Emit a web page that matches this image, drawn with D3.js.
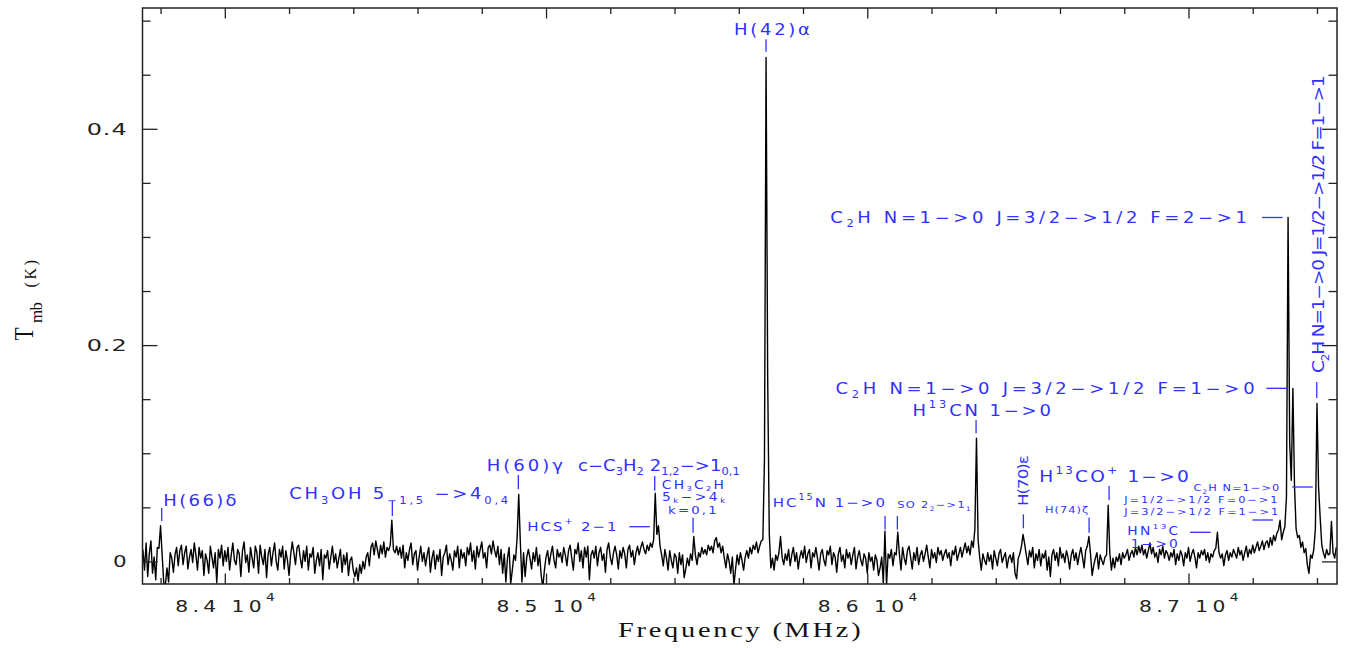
<!DOCTYPE html>
<html>
<head>
<meta charset="utf-8">
<script src="https://cdn.jsdelivr.net/npm/d3@7"></script>
<style>
  html, body { margin: 0; background: #fff; }
  svg { display: block; }
  text { white-space: pre; }
</style>
</head>
<body>
<svg id="chart" width="1353" height="648"></svg>
<script>
// ---- spectrum: first channel frequency (MHz) and channel width (MHz)
const freqStart = 83745;
const chanWidth = 5;

// ---- main-beam brightness temperature per channel (mK)
const tmbMilliK = [
  11, -8, 17, -14, 7, 19, -11, 4, -17, 13, 12, 33, 6, -20, -22, -6, -19, 8, 3, -10,
  6, 13, -4, 10, 15, -3, 8, 14, -7, 4, 11, -1, 17, 6, -8, 13, 3, 10, -13, 7,
  1, -11, 14, 4, -6, 8, -20, 11, 3, 15, -4, 10, 0, 13, -8, 6, 17, 1, -3, 11,
  7, -14, 10, 18, -1, 6, -10, 13, 3, -6, 14, 8, -11, 15, 4, -3, 11, -15, 7, 13,
  -4, 8, 17, 0, -8, 11, 4, 14, -7, 10, 1, -13, 6, 18, 8, -3, 13, 15, 3, -6,
  10, 0, 14, -8, 7, 4, 13, -11, 1, 8, -4, 11, -17, 6, 3, 10, -7, 4, 14, -1,
  7, -6, 3, 11, -10, 6, -3, 8, -13, 1, 4, -8, -14, -6, -18, -3, -11, 0, -7, 4,
  8, -4, 13, 17, 6, 19, 11, 3, 15, 7, 18, 4, 13, 10, 15, 38, 11, 8, 14, 6,
  13, 3, 15, -6, 8, 1, 11, 17, -3, 7, 10, -8, 4, 14, 0, 8, -4, 6, 13, -10,
  3, 10, -7, 6, 0, 11, -13, 4, 8, 15, -3, 7, 1, -8, 10, 4, 14, -6, 11, 3,
  8, -4, 13, 6, 17, 0, 10, -7, 14, 4, 11, 18, 3, 8, -6, 13, 15, 7, 19, 10,
  4, 14, -3, 11, -11, 7, -19, 3, 13, -21, -8, 6, 1, 22, 62, 18, -19, 8, -14, 4,
  11, 3, -7, 8, 0, 13, -4, 6, -13, -24, -8, 4, 10, -3, 7, 14, 1, -6, 11, 4,
  8, -1, 13, 6, -4, 10, 15, 3, -8, 11, 7, 17, 0, 10, -6, 13, 4, 14, -17, 6,
  10, 3, 14, -4, 8, 13, 1, 7, -10, 11, 17, 4, -3, 8, 14, 6, -7, 10, 3, 13,
  7, -6, 11, 15, 4, 10, -3, 8, 14, 6, 13, 18, 11, 7, 15, 10, 17, 13, 20, 63,
  25, 33, 14, 6, -4, 11, 3, -8, 10, 1, -6, 7, 4, -11, 8, -3, 6, -15, -7, 3,
  -4, 7, 1, 23, 6, -3, 8, 4, 13, 7, 11, 6, 15, 10, 14, 8, 19, 22, 13, 17,
  8, 14, 3, -6, 7, 0, -11, 4, -22, -7, 6, -3, 8, 1, -8, 4, 10, 3, 13, 7,
  15, 11, 18, 8, 14, 19, 20, 95, 466, 170, 25, -6, 3, -8, 6, 1, 8, 23, 4, -3,
  7, 1, 11, -4, 6, 13, 0, 8, -7, 4, 10, 3, 14, -1, 7, 11, -6, 8, 4, 13,
  3, -8, 7, 11, 1, -4, 10, 6, 14, -3, 8, 4, -10, 7, 13, 0, 6, -6, 11, 3,
  8, -3, 6, 13, -7, 4, 10, 1, -4, 7, 3, -11, 8, 0, 4, -8, 6, 1, -13, -6,
  4, -20, 28, -22, 7, 3, 11, -4, 8, 6, 27, 7, -8, 13, 3, -3, 10, 14, 4, -7,
  8, 1, 13, -3, 6, 10, 0, 7, 15, 4, -6, 11, 3, 8, -1, 13, 6, 10, 1, 7,
  11, 3, 8, -4, 10, 6, 14, 1, 7, 13, 4, 11, 17, 8, 14, 6, 19, 13, 30, 114,
  20, 4, -8, 7, 1, -3, 8, 0, 6, -7, 10, 3, -4, 7, 11, -1, 4, 8, -6, 3,
  6, -1, 8, -11, -16, 3, 7, 14, 25, 16, 6, -3, 10, 4, 13, -6, 7, 1, 11, -4,
  7, 3, 10, -8, 4, -14, 6, 11, 1, 8, -4, 13, 3, 7, -1, 10, 4, -7, 6, 11,
  1, 8, -3, 6, 13, 4, -6, 10, 14, 23, 7, -13, -4, 3, 8, -7, 6, 1, -3, 4,
  6, 52, 8, -8, 3, -6, 4, 0, 7, -3, 8, 3, 6, 11, 1, 7, 10, 4, 13, 6,
  14, 8, 15, 6, 11, 3, 10, 17, 7, 13, 4, 8, -1, 11, 6, 14, 3, 10, 7, 1,
  8, 4, 11, -3, 7, 1, 10, 6, -4, 8, 3, 13, 0, 7, 11, 4, -6, 8, 3, 10,
  6, 11, 1, 8, -1, 7, 4, 10, 12, 27, 8, 3, 7, -4, 6, 10, 1, 8, 4, 11,
  7, 3, 13, 6, 10, 1, 8, 14, 4, 11, 7, 15, 8, 13, 18, 10, 14, 19, 11, 17,
  19, 13, 22, 15, 24, 19, 26, 29, 38, 20, 27, 32, 60, 318, 110, 75, 160, 70, 30, 22,
  24, 13, 18, 8, 12, -3, -11, 6, 3, 11, 30, 146, 68, 40, 15, 8, 3, 11, 6, 7, 37, 8, 3, 13
];

// ---- axis ticks
const xMajorTicks = [84000, 85000, 86000, 87000];
const xTickLabels = ["8.4 10^{4}", "8.5 10^{4}", "8.6 10^{4}", "8.7 10^{4}"];
const yMajorTicks = [0, 0.2, 0.4];
const yTickLabels = ["0", "0.2", "0.4"];
const xTitle = "Frequency (MHz)";

// ---- identified transitions: frequency (MHz) each marker points at
const markFreqs = [
  83803.5, 84521.5, 84913.8, 85338.4, 85348.0, 85457.7, 85684.9, 86055.4, 86093.7, 86338.7,
  86486.0, 86690.5, 86752.8, 87089.0, 87283.0, 87407.0, 87313.0, 87326.5, 87399.3
];

// ---- label texts (_{..} subscript, ^{..} superscript), one entry per text line
const labelTexts = [
  "H(66)δ",
  "CH_{3}OH 5_{−1,5} −>4_{0,4}",
  "H(60)γ",
  "c−C_{3}H_{2} 2_{1,2}−>1_{0,1}",
  "HCS^{+} 2−1",
  "CH_{3}C_{2}H",
  "5_{k}−>4_{k}",
  "k=0,1",
  "H(42)α",
  "HC^{15}N 1−>0",
  "SO 2_{2}−>1_{1}",
  "H^{13}CN 1−>0",
  "H(70)ε",
  "H(74)ζ",
  "H^{13}CO^{+} 1−>0",
  "HN^{13}C",
  "1−>0",
  "C_{2}H N=1−>0",
  "J=1/2−>1/2 F=0−>1",
  "J=3/2−>1/2 F=1−>1",
  "C_{2}H N=1−>0 J=3/2−>1/2 F=2−>1",
  "C_{2}H N=1−>0 J=3/2−>1/2 F=1−>0",
  "C_{2}H N=1−>0 J=1/2−>1/2 F=1−>1"
];

// =================== drawing ===================
const svg = d3.select("#chart");
const plot = { left: 142.5, right: 1337, top: 8, bottom: 584 };
const BLUE = "#3030ff";
const SANS = "'DejaVu Sans', 'Liberation Sans', sans-serif";
const SERIF = "'Liberation Serif', 'DejaVu Serif', serif";

const x = d3.scaleLinear().domain([83743.8, 87462.3]).range([plot.left, plot.right]);
const y = d3.scaleLinear().domain([-0.0209, 0.5117]).range([plot.bottom, plot.top]);

svg.append("defs").append("clipPath").attr("id", "plotClip")
  .append("rect")
  .attr("x", plot.left).attr("y", plot.top)
  .attr("width", plot.right - plot.left).attr("height", plot.bottom - plot.top);

// spectrum trace
const spectrum = tmbMilliK.map((v, i) => ({ f: freqStart + i * chanWidth, t: v / 1000 }));
svg.append("path")
  .datum(spectrum)
  .attr("clip-path", "url(#plotClip)")
  .attr("fill", "none")
  .attr("stroke", "#000")
  .attr("stroke-width", 1.4)
  .attr("stroke-linejoin", "round")
  .attr("d", d3.line().x(d => x(d.f)).y(d => y(d.t)));

// ---- axes: inward ticks on all four sides
const xMinor = d3.range(83800, 87401, 200).filter(v => !xMajorTicks.includes(v));
const yMinor = d3.range(0, 0.5001, 0.05).map(v => +v.toFixed(2)).filter(v => !yMajorTicks.includes(v));

function tickGroup(axis, tx, ty) {
  const g = svg.append("g").attr("transform", `translate(${tx},${ty})`).call(axis);
  g.select(".domain").remove();
  g.selectAll("line").attr("stroke", "#222").attr("stroke-width", 1.3);
  g.selectAll("text").remove();
  return g;
}
tickGroup(d3.axisBottom(x).tickValues(xMajorTicks).tickSize(-10.5), 0, plot.bottom);
tickGroup(d3.axisBottom(x).tickValues(xMinor).tickSize(-6), 0, plot.bottom);
tickGroup(d3.axisTop(x).tickValues(xMajorTicks).tickSize(-10.5), 0, plot.top);
tickGroup(d3.axisTop(x).tickValues(xMinor).tickSize(-6), 0, plot.top);
tickGroup(d3.axisLeft(y).tickValues(yMajorTicks).tickSize(-15), plot.left, 0);
tickGroup(d3.axisLeft(y).tickValues(yMinor).tickSize(-8), plot.left, 0);
tickGroup(d3.axisRight(y).tickValues(yMajorTicks).tickSize(-15), plot.right, 0);
tickGroup(d3.axisRight(y).tickValues(yMinor).tickSize(-8.5), plot.right, 0);

svg.append("rect")
  .attr("x", plot.left).attr("y", plot.top)
  .attr("width", plot.right - plot.left).attr("height", plot.bottom - plot.top)
  .attr("fill", "none").attr("stroke", "#222").attr("stroke-width", 1.5);

// ---- rich text helpers
function parseMarkup(s) {
  const out = [];
  let buf = "", i = 0;
  while (i < s.length) {
    if ((s[i] === "_" || s[i] === "^") && s[i + 1] === "{") {
      if (buf) { out.push({ t: buf, k: "n" }); buf = ""; }
      const end = s.indexOf("}", i);
      out.push({ t: s.slice(i + 2, end), k: s[i] === "_" ? "sub" : "sup" });
      i = end + 1;
    } else { buf += s[i]; i++; }
  }
  if (buf) out.push({ t: buf, k: "n" });
  return out;
}

// Draws a label whose ink spans a given box: horizontal (x0..x1, centred on cy)
// or rotated to read upwards (y0 bottom .. y1 top, centred on cx).
function placeLabel(parent, markup, o) {
  const fs = o.fs, sx = o.sx || 1.2, cap = o.cap || 0.73;
  const subDy = (o.subDy != null ? o.subDy : 0.3) * fs;
  const supDy = (o.supDy != null ? o.supDy : -0.55) * fs;
  const g = parent.append("g");
  const t = g.append("text")
    .attr("x", 0).attr("y", 0)
    .attr("font-family", o.family || SANS)
    .attr("font-size", fs)
    .attr("fill", o.color || BLUE);
  let shift = 0, n = 0;
  for (const seg of parseMarkup(markup)) {
    const target = seg.k === "sub" ? subDy : seg.k === "sup" ? supDy : 0;
    t.append("tspan")
      .attr("dy", target - shift)
      .attr("font-size", seg.k === "n" ? fs : fs * (o.small || 0.64))
      .text(seg.t);
    shift = target;
    n += [...seg.t].length;
  }
  const len = o.rot ? (o.y0 - o.y1) : (o.x1 - o.x0);
  const w = t.node().getComputedTextLength();
  let scale = sx;
  if (n > 1) {
    const ls = (len / sx - w) / (n - 1);
    t.style("letter-spacing", ls + "px");
  } else {
    scale = len / w;
  }
  const base = o.baseline != null ? o.baseline : null;
  if (!o.rot) {
    const by = base != null ? base : o.cy + cap * fs / 2;
    g.attr("transform", `translate(${o.x0},${by}) scale(${scale},1)`);
  } else {
    const bx = base != null ? base : o.cx + cap * fs / 2;
    g.attr("transform", `translate(${bx},${o.y0}) rotate(-90) scale(${scale},1)`);
  }
  return g;
}

// ---- tick labels
const tickLabels = svg.append("g");
xMajorTicks.forEach((v, i) => {
  const cxv = x(v);
  placeLabel(tickLabels, xTickLabels[i], {
    x0: cxv - 49.5, x1: cxv + 50, cy: 606.2, fs: 15, color: "#222",
    supDy: -0.72, small: 0.68, sx: 1.35
  });
});
const yLabelRight = 126.7;
const yLabelWidth = { 1: 13.7, 3: 40 };
yMajorTicks.forEach((v, i) => {
  const s = yTickLabels[i];
  placeLabel(tickLabels, s, {
    x0: yLabelRight - yLabelWidth[s.length], x1: yLabelRight,
    cy: y(v) + 0.5, fs: 15, color: "#222", sx: 1.6
  });
});

// ---- axis titles
placeLabel(svg, xTitle, { x0: 618, x1: 860.7, cy: 629.7, fs: 21, family: SERIF, cap: 0.66, color: "#111", sx: 1.35 });
placeLabel(svg, "T", { rot: true, baseline: 33.3, y0: 340.5, y1: 327.5, fs: 27, family: SERIF, color: "#111" });
placeLabel(svg, "mb", { rot: true, baseline: 41.5, y0: 323, y1: 302, fs: 17, family: SERIF, color: "#111", sx: 1 });
placeLabel(svg, "(K)", { rot: true, baseline: 35.5, y0: 287.5, y1: 260, fs: 16, family: SERIF, color: "#111", sx: 1 });

// ---- line identification markers
const GAP = 6.5, LEAD = 20.5;
const markLayout = [
  { v: [508, 521] },       // H(66)δ
  { v: [501, 516] },       // CH3OH
  { v: [475, 489.3] },     // H(60)γ
  { v: [476, 490.7] },     // c-C3H2
  { h: 526.7, gap: 8 },    // HCS+
  { v: [517.7, 532.7] },   // CH3C2H
  { v: [39.3, 51.7] },     // H(42)α
  { v: [516, 529.5] },     // HC15N
  { v: [516, 529.5] },     // SO
  { v: [420, 433.3] },     // H13CN
  { v: [514.3, 528.3] },   // H(70)ε
  { v: [517.7, 532.7] },   // H(74)ζ
  { v: [486, 500] },       // H13CO+
  { h: 532.3 },            // HN13C
  { h: 520 },              // C2H J=3/2 F=1->1
  { h: 487 },              // C2H J=1/2 F=0->1
  { h: 217.5 },            // C2H F=2->1
  { h: 388.3 },            // C2H F=1->0
  { v: [382, 398] }        // C2H J=1/2 F=1->1
];
const marks = svg.append("g").attr("stroke", BLUE).attr("stroke-width", 1.3);
markFreqs.forEach((f, i) => {
  const m = markLayout[i], xf = x(f);
  if (m.v) {
    marks.append("line").attr("x1", xf).attr("x2", xf).attr("y1", m.v[0]).attr("y2", m.v[1]);
  } else {
    const x1 = xf - (m.gap || GAP);
    marks.append("line").attr("x1", x1 - LEAD).attr("x2", x1).attr("y1", m.h).attr("y2", m.h);
  }
});

// ---- line identification labels
const labelLayout = [
  { x0: 163.3, x1: 236.7, cy: 500.6, fs: 15 },
  { x0: 289.3, x1: 508.3, cy: 493.6, fs: 15 },
  { x0: 486.7, x1: 563, cy: 466, fs: 15 },
  { x0: 578, x1: 740, cy: 466, fs: 15, subDy: 0.26 },
  { x0: 527.3, x1: 616.7, cy: 526.7, fs: 12.5 },
  { x0: 661.7, x1: 724, cy: 484.5, fs: 11.5, subDy: 0.18, small: 0.6 },
  { x0: 662, x1: 725, cy: 497, fs: 11.5, subDy: 0.18, small: 0.6 },
  { x0: 668, x1: 716.7, cy: 509.8, fs: 11 },
  { x0: 734, x1: 810, cy: 29.5, fs: 15 },
  { x0: 772.7, x1: 885, cy: 502.7, fs: 12.5 },
  { x0: 897.3, x1: 970.7, cy: 505, fs: 9.5 },
  { x0: 912.5, x1: 1051, cy: 410.8, fs: 15 },
  { rot: true, cx: 1023.3, y0: 506, y1: 455, fs: 14 },
  { x0: 1045, x1: 1088.3, cy: 509.3, fs: 9.5 },
  { x0: 1039.3, x1: 1189, cy: 476.7, fs: 15.5 },
  { x0: 1127.3, x1: 1178.3, cy: 531, fs: 11.5 },
  { x0: 1130.7, x1: 1177.7, cy: 544, fs: 11.5 },
  { x0: 1193.5, x1: 1279.3, cy: 487.8, fs: 9.5 },
  { x0: 1124.3, x1: 1277.7, cy: 499.3, fs: 9.5 },
  { x0: 1124.3, x1: 1278.3, cy: 511.2, fs: 9.5 },
  { x0: 830.2, x1: 1247.3, cy: 217.5, fs: 15 },
  { x0: 835.4, x1: 1255, cy: 388.5, fs: 15 },
  { rot: true, cx: 1318.3, y0: 373, y1: 75, fs: 15.5 }
];
const labels = svg.append("g");
labelTexts.forEach((s, i) => placeLabel(labels, s, labelLayout[i]));
</script>
</body>
</html>
